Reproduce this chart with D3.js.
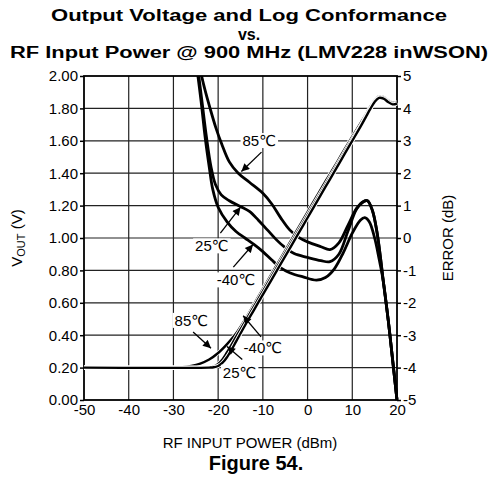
<!DOCTYPE html>
<html>
<head>
<meta charset="utf-8">
<script src="https://cdn.jsdelivr.net/npm/d3@7"></script>
<style>
  html, body { margin: 0; padding: 0; background: #fff; }
  svg { display: block; }
  text { font-family: "Liberation Sans", Arial, "DejaVu Sans", sans-serif; fill: #000; }
</style>
</head>
<body>
<svg id="chart" width="497" height="478"></svg>
<script>
// RF input power sweep (dBm), output voltage (V) and log-conformance error (dB)
const titleLines = ["Output Voltage and Log Conformance", "vs.", "RF Input Power @ 900 MHz (LMV228 inWSON)"];
const xTicks = [-50, -40, -30, -20, -10, 0, 10, 20];
const vTicks = [0, 0.2, 0.4, 0.6, 0.8, 1.0, 1.2, 1.4, 1.6, 1.8, 2.0];
const eTicks = [-5, -4, -3, -2, -1, 0, 1, 2, 3, 4, 5];

// VOUT vs RF input power: [dBm, V]
const vout85 = [[-50,.2],[-30,.2],[-28,.202],[-26,.21],[-24,.225],[-22,.25],[-20,.29],[-18,.345],[-16,.41],[-14,.495],[-12,.59],[-10,.685],[-8,.78],[-6,.875],[-4,.97],[-2,1.065],[0,1.16],[2,1.255],[4,1.35],[6,1.44],[8,1.535],[10,1.625],[12,1.715],[13,1.76],[14,1.81],[15,1.85],[16,1.875],[17,1.87],[18,1.85],[19,1.835],[20,1.84]];
const vout25 = [[-50,.2],[-24,.2],[-22,.201],[-21,.206],[-20,.222],[-19,.252],[-18,.295],[-16,.389],[-14,.483],[-12,.577],[-10,.671],[-8,.765],[-6,.859],[-4,.953],[-2,1.047],[0,1.141],[2,1.235],[4,1.329],[6,1.423],[8,1.517],[10,1.611],[12,1.70],[13,1.75],[14,1.80],[15,1.845],[16,1.87],[17,1.865],[18,1.845],[19,1.83],[20,1.835]];
const voutM40 = [[-50,.2],[-22,.2],[-21,.202],[-20,.21],[-19,.23],[-18,.265],[-17,.31],[-16,.36],[-14,.46],[-12,.555],[-10,.65],[-8,.745],[-6,.84],[-4,.935],[-2,1.03],[0,1.125],[2,1.22],[4,1.315],[6,1.41],[8,1.505],[10,1.6],[12,1.695],[13,1.745],[14,1.795],[15,1.84],[16,1.865],[17,1.86],[18,1.84],[19,1.825],[20,1.83]];

// Log-conformance error vs RF input power: [dBm, dB]
const err85 = [[-24.2,5.3],[-23,4.6],[-21.8,4.0],[-20.5,3.4],[-19.2,2.9],[-17.5,2.35],[-15.5,2.0],[-13,1.72],[-10,1.38],[-8,1.05],[-6,0.62],[-4,0.25],[-2,0.02],[0,-0.12],[3,-0.27],[5,-0.36],[7,-0.15],[9,0.38],[11,0.92],[12.5,1.13],[13.4,1.15],[14.5,0.85],[15.5,0.2],[16.3,-0.6],[16.9,-1.3],[18.05,-2.55],[19.05,-3.8],[20,-5]];
const err25 = [[-24.6,5.3],[-23.6,4.2],[-22.6,3.1],[-21.6,2.2],[-20.6,1.65],[-19.3,1.33],[-17.5,1.15],[-15,0.97],[-13,0.82],[-11,0.55],[-9,0.25],[-7,-0.05],[-5,-0.3],[-3,-0.48],[0,-0.6],[3,-0.7],[5,-0.73],[7,-0.5],[9,0.2],[11,0.9],[12.5,1.12],[13.4,1.15],[14.5,0.85],[15.5,0.2],[16.3,-0.6],[16.9,-1.3],[18.05,-2.55],[19.05,-3.8],[20,-5]];
const errM40 = [[-24.8,5.3],[-23.8,4.2],[-22.9,3.1],[-22,2.2],[-21.2,1.5],[-20,0.95],[-18,0.5],[-16,0.2],[-14,0.0],[-12,-0.2],[-10,-0.42],[-8,-0.68],[-6,-0.92],[-4,-1.07],[-1,-1.2],[2,-1.3],[4,-1.22],[6,-0.95],[8,-0.45],[10,0.15],[11.8,0.55],[12.8,0.63],[13.8,0.5],[15,0.0],[16,-0.65],[16.9,-1.3],[18.05,-2.55],[19.05,-3.8],[20,-5]];

// Temperature callouts: label text, label anchor [dBm, V], arrow tail and tip [dBm, V]
const callouts = [
  { text: "85\u2103",  at: [-10.8, 1.60], from: [-10.3, 1.53], tip: [-14.8, 1.41] },
  { text: "25\u2103",  at: [-21.4, 0.95], from: [-19.5, 1.03], tip: [-15.0, 1.19] },
  { text: "-40\u2103", at: [-16.0, 0.74], from: [-16.6, 0.82], tip: [-12.2, 0.96] },
  { text: "85\u2103",  at: [-26.0, 0.49], from: [-25.6, 0.42], tip: [-21.6, 0.32] },
  { text: "-40\u2103", at: [-10.0, 0.32], from: [-10.4, 0.39], tip: [-14.4, 0.52] },
  { text: "25\u2103",  at: [-15.2, 0.17], from: [-14.6, 0.25], tip: [-18.0, 0.33] }
];

const svg = d3.select("#chart");
const plotL = 84, plotR = 397, plotT = 76, plotB = 400;

const x = d3.scaleLinear().domain([-50, 20]).range([plotL, plotR]);
const yV = d3.scaleLinear().domain([0, 2]).range([plotB, plotT]);
const yE = d3.scaleLinear().domain([-5, 5]).range([plotB, plotT]);

// Title (three centred bold lines, wide and tightly stacked)
const titleWidths = [396, null, 478];
svg.append("g").selectAll("text").data(titleLines).join("text")
  .attr("x", 249).attr("y", (d, i) => 21 + i * 18.6)
  .attr("text-anchor", "middle")
  .style("font-size", "16px").style("font-weight", "bold")
  .each(function (d, i) {
    if (titleWidths[i]) d3.select(this).attr("textLength", titleWidths[i]).attr("lengthAdjust", "spacingAndGlyphs");
  })
  .text(d => d);

// Grid
const grid = svg.append("g").attr("stroke", "#222").attr("stroke-width", 1.2);
grid.selectAll("line.v").data(xTicks.slice(1, -1)).join("line").attr("class", "v")
  .attr("x1", d => x(d)).attr("x2", d => x(d)).attr("y1", plotT).attr("y2", plotB);
grid.selectAll("line.h").data(vTicks.slice(1, -1)).join("line").attr("class", "h")
  .attr("x1", plotL).attr("x2", plotR).attr("y1", d => yV(d)).attr("y2", d => yV(d));

// Axes (plain hyphen-minus in tick labels)
const axisFont = g => g.selectAll("text").style("font-size", "15px").style("font-family", "'Liberation Sans', Arial, sans-serif");
svg.append("g").attr("transform", `translate(${plotL},0)`)
  .call(d3.axisLeft(yV).tickValues(vTicks).tickFormat(d => d.toFixed(2)).tickSize(4).tickPadding(2))
  .call(g => g.select(".domain").remove())
  .call(g => g.selectAll("line").attr("stroke-width", 1.5))
  .call(axisFont);
svg.append("g").attr("transform", `translate(${plotR},0)`)
  .call(d3.axisRight(yE).tickValues(eTicks).tickFormat(d => String(d)).tickSize(4).tickPadding(2))
  .call(g => g.select(".domain").remove())
  .call(g => g.selectAll("line").attr("stroke-width", 1.5))
  .call(axisFont);
svg.append("g").attr("transform", `translate(0,${plotB})`)
  .call(d3.axisBottom(x).tickValues(xTicks).tickFormat(d => String(d)).tickSize(0).tickPadding(4))
  .call(g => g.select(".domain").remove())
  .call(axisFont);

// Plot frame
svg.append("rect").attr("x", plotL).attr("y", plotT).attr("width", plotR - plotL).attr("height", plotB - plotT)
  .attr("fill", "none").attr("stroke", "#000").attr("stroke-width", 1.8);

// Axis titles
const yLab = svg.append("text").attr("transform", `translate(22,${(plotT + plotB) / 2}) rotate(-90)`)
  .attr("text-anchor", "middle").style("font-size", "15px");
yLab.append("tspan").text("V");
yLab.append("tspan").attr("dy", 3).style("font-size", "11px").text("OUT");
yLab.append("tspan").attr("dy", -3).text(" (V)");
svg.append("text").attr("transform", `translate(453,${(plotT + plotB) / 2}) rotate(-90)`)
  .attr("text-anchor", "middle").style("font-size", "15px").text("ERROR (dB)");
svg.append("text").attr("x", 250).attr("y", 448).attr("text-anchor", "middle")
  .style("font-size", "15px").text("RF INPUT POWER (dBm)");
svg.append("text").attr("x", 256).attr("y", 470).attr("text-anchor", "middle")
  .style("font-size", "20px").style("font-weight", "bold").text("Figure 54.");

// Curves
svg.append("clipPath").attr("id", "plotClip").append("rect")
  .attr("x", plotL - 5).attr("y", plotT).attr("width", plotR - plotL + 10).attr("height", plotB - plotT + 6);

const curveG = svg.append("g").attr("clip-path", "url(#plotClip)");
const lineV = d3.line().x(d => x(d[0])).y(d => yV(d[1])).curve(d3.curveCatmullRom.alpha(0.5));
const lineE = d3.line().x(d => x(d[0])).y(d => yE(d[1])).curve(d3.curveCatmullRom.alpha(0.5));

[err85, err25, errM40].forEach(s => {
  curveG.append("path").attr("d", lineE(s)).attr("fill", "none")
    .attr("stroke", "#000").attr("stroke-width", 2.8).attr("stroke-linejoin", "round");
});
[vout85, vout25, voutM40].forEach(s => {
  curveG.append("path").attr("d", lineV(s)).attr("fill", "none")
    .attr("stroke", "#fff").attr("stroke-width", 4.2);
  curveG.append("path").attr("d", lineV(s)).attr("fill", "none")
    .attr("stroke", "#000").attr("stroke-width", 2.4).attr("stroke-linejoin", "round");
});

// Callouts with arrows
svg.append("defs").append("marker").attr("id", "arrowHead")
  .attr("viewBox", "0 0 10 10").attr("refX", 10).attr("refY", 5)
  .attr("markerWidth", 10).attr("markerHeight", 8).attr("markerUnits", "userSpaceOnUse")
  .attr("orient", "auto")
  .append("path").attr("d", "M0,0 L10,5 L0,10 Z").attr("fill", "#000");

const cg = svg.append("g");
callouts.forEach(c => {
  cg.append("line")
    .attr("x1", x(c.from[0])).attr("y1", yV(c.from[1]))
    .attr("x2", x(c.tip[0])).attr("y2", yV(c.tip[1]))
    .attr("stroke", "#000").attr("stroke-width", 1.3).attr("marker-end", "url(#arrowHead)");
  const t = cg.append("text").attr("x", x(c.at[0])).attr("y", yV(c.at[1]))
    .attr("text-anchor", "middle").attr("dy", "0.35em").style("font-size", "15px").text(c.text);
  const b = t.node().getBBox();
  cg.insert("rect", () => t.node()).attr("x", b.x - 2).attr("y", b.y + 1)
    .attr("width", b.width + 4).attr("height", b.height - 2).attr("fill", "#fff");
});
</script>
</body>
</html>
